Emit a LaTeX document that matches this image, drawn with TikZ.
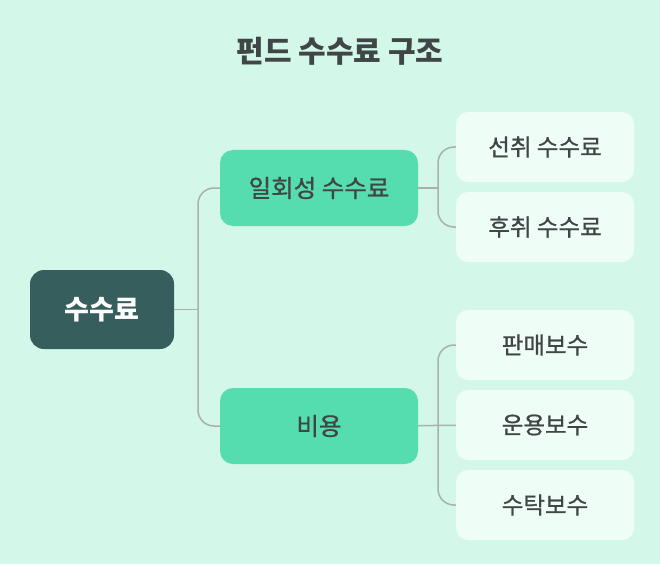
\documentclass[tikz,border=0pt]{standalone}
\usepackage{fontspec}
\setmainfont{Noto Sans CJK KR}
\newfontfamily\medfont[FakeBold=0.9]{Noto Sans CJK KR}
\usetikzlibrary{positioning}
\definecolor{bgmint}{HTML}{D3F8EA}
\definecolor{rootteal}{HTML}{365E5C}
\definecolor{midgreen}{HTML}{56DDAF}
\definecolor{leafmint}{HTML}{EFFDF7}
\definecolor{inkgray}{HTML}{404545}
\definecolor{linegray}{HTML}{ABAFAD}
\tikzset{
  rootbox/.style={fill=rootteal, text=white, rounded corners=14pt,
    minimum width=144pt, minimum height=79pt, font=\fontsize{27}{32}\selectfont\bfseries},
  midbox/.style={fill=midgreen, text=inkgray, rounded corners=13pt,
    minimum width=198pt, minimum height=76pt, font=\medfont\fontsize{24.5}{29}\selectfont},
  leafbox/.style={fill=leafmint, text=inkgray, rounded corners=12pt,
    minimum width=178pt, minimum height=70pt, font=\medfont\fontsize{23.5}{28}\selectfont},
  link/.style={draw=linegray, line width=1.5pt, rounded corners=16pt}
}
\begin{document}
\begin{tikzpicture}[x=1pt,y=-1pt]
      \fill[bgmint] (0,0) rectangle (660,564);
      \useasboundingbox (0,0) rectangle (660,564);
      \node[text=inkgray, font=\fontsize{30}{36}\selectfont\bfseries] (title) at (340,51) {펀드 수수료 구조};
      \draw
        (102,309.5) node[rootbox] (fee){수수료}
        (319,188) node[midbox] (once){일회성 수수료}
        (319,426) node[midbox] (cost){비용}
        (545,147) node[leafbox] (front){선취 수수료}
        (545,227) node[leafbox] (back){후취 수수료}
        (545,345) node[leafbox] (sales){판매보수}
        (545,425) node[leafbox] (manage){운용보수}
        (545,505) node[leafbox] (custody){수탁보수};
      \coordinate (forkroot) at (198,309.5);
      \coordinate (forkonce) at (438,188);
      \coordinate (forkcost) at (438,426);
      \begin{scope}[link]
        \draw (fee) to (forkroot);
        \draw (forkroot) |- (once.west);
        \draw (forkroot) |- (cost.west);
        \draw (once) to (forkonce);
        \draw (forkonce) |- (front.west);
        \draw (forkonce) |- (back.west);
        \draw (cost) to (manage);
        \draw (forkcost) |- (sales.west);
        \draw (forkcost) |- (custody.west);
      \end{scope}
    \end{tikzpicture}
\end{document}
